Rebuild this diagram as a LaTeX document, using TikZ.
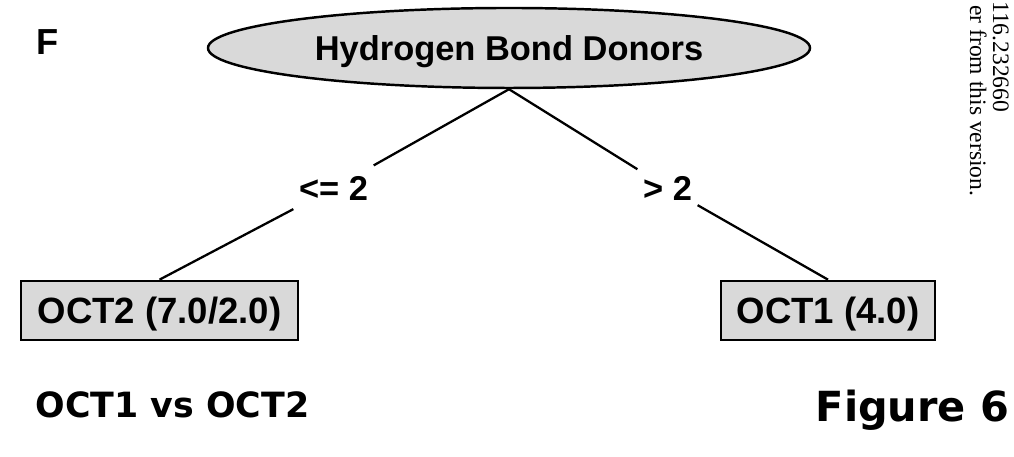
\documentclass[tikz,border=0pt]{standalone}
\usepackage{fontspec}
\setmainfont{Liberation Sans}
\newfontfamily\widesans{DejaVu Sans}
\newfontfamily\stampfont{Liberation Serif}
\usetikzlibrary{shapes.geometric}
\definecolor{nodegray}{RGB}{217,217,217}
\begin{document}
\begin{tikzpicture}[
		attr/.style={ellipse, draw, fill=nodegray, line width=0.7pt, minimum width=6.02cm, minimum height=0.8cm, inner sep=0pt, text depth=0pt, font=\fontsize{9.8}{11}\selectfont\bfseries},
		leaf/.style={rectangle, draw, fill=nodegray, line width=0.75pt, minimum height=0.59cm, inner sep=0pt, text depth=0pt, font=\fontsize{10.4}{12}\selectfont\bfseries},
		cond/.style={inner xsep=0.05cm, inner ysep=0.12cm, font=\fontsize{9.8}{11}\selectfont\bfseries},
		edge/.style={line width=0.65pt},
		caption/.style={inner sep=0pt, anchor=base west},
		stamp/.style={inner sep=0pt, rotate=-90, anchor=base east, font=\fontsize{6.7}{8}\stampfont}]
		\useasboundingbox (0,0) rectangle (10.14,4.57);
		\node(panel)[caption, font=\fontsize{10.3}{12}\selectfont\bfseries] at (0.355,4.02){F};
		\node(root)[attr] at (5.09,4.09){Hydrogen Bond Donors};
		\node(oct2)[leaf, minimum width=2.77cm] at (1.595,1.465){OCT2 (7.0/2.0)};
		\node(oct1)[leaf, minimum width=2.14cm] at (8.28,1.465){OCT1 (4.0)};
		\node(le)[cond] at (3.335,2.69){<= 2};
		\node(gt)[cond] at (6.675,2.69){> 2};
		\draw[edge](root.south) -- (le) -- (oct2.north);
		\draw[edge](root.south) -- (gt) -- (oct1.north);
		\node(pair)[caption, font=\fontsize{9.9}{12}\widesans\bfseries] at (0.35,0.39){OCT1 vs OCT2};
		\node(fig)[caption, font=\fontsize{11.8}{14}\widesans\bfseries] at (8.15,0.35){Figure 6};
		\node(doi)[stamp] at (9.93,3.44){.116.232660};
		\node(ver)[stamp] at (9.70,2.60){er from this version.};
	\end{tikzpicture}
\end{document}
